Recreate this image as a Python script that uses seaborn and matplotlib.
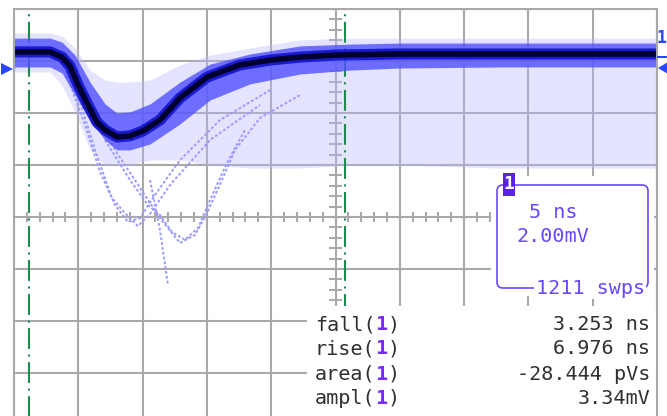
import numpy as np
import pandas as pd
import matplotlib
matplotlib.use("Agg")
import matplotlib.pyplot as plt
import seaborn as sns
from matplotlib.patches import FancyBboxPatch, Rectangle, Polygon

# ---------------- data (time in ns, voltage in mV) ----------------
core_t = [-25.0, -22.20, -21.27, -20.65, -20.02, -19.25, -18.55, -17.92, -16.99, -15.98, -14.97,
          -13.65, -12.09, -9.99, -7.43, -5.02, -2.76, 0.0, 5.02, 12.79, 20.57, 25.0]
core_mv = [6.35, 6.35, 6.15, 5.81, 5.08, 4.31, 3.65, 3.35, 3.08, 3.12, 3.31,
           3.73, 4.58, 5.38, 5.85, 6.04, 6.15, 6.23, 6.27, 6.27, 6.27, 6.27]

env_t = [-25.0, -22.20, -21.27, -20.26, -19.09, -17.92, -16.99, -15.98, -14.42, -12.09, -9.76,
         -6.65, -2.76, 1.13, 5.02, 12.79, 20.57, 25.0]
light_hi = [7.08, 7.08, 6.96, 6.50, 5.65, 5.27, 5.19, 5.19, 5.27, 5.85, 6.23,
            6.50, 6.81, 6.88, 6.88, 6.88, 6.88, 6.88]
light_lo = [5.58, 5.58, 5.08, 4.04, 2.58, 2.00, 2.00, 2.00, 2.19, 2.19, 2.00,
            1.88, 1.88, 2.00, 2.00, 1.88, 1.88, 1.88]
band_hi = [6.88, 6.88, 6.73, 6.23, 5.19, 4.35, 4.00, 4.04, 4.35, 5.19, 5.88,
           6.27, 6.58, 6.65, 6.69, 6.69, 6.69, 6.69]
band_lo = [5.77, 5.77, 5.54, 4.69, 3.73, 2.96, 2.58, 2.58, 2.81, 3.58, 4.50,
           5.12, 5.50, 5.65, 5.73, 5.77, 5.77, 5.77]

out1_t = [-21.27, -19.48, -18.31, -17.15, -16.14, -15.20, -14.04, -12.09, -8.98, -5.09]
out1_mv = [5.96, 3.54, 1.73, 0.46, -0.19, -0.04, 0.85, 2.19, 3.73, 4.88]
out2_t = [-20.65, -18.70, -17.38, -16.37, -15.36, -14.42, -12.87, -9.76, -5.87]
out2_mv = [5.65, 2.58, 0.73, 0.15, -0.35, 0.12, 1.23, 2.96, 4.31]
out3_t = [-19.09, -17.15, -15.20, -13.65, -12.09, -10.92, -9.99, -8.83, -7.81, -5.87, -2.76]
out3_mv = [4.31, 2.58, 1.12, -0.04, -1.00, -0.69, 0.15, 1.42, 2.58, 3.81, 4.69]
out4_t = [-17.92, -15.98, -14.58, -13.65, -12.71, -11.70, -10.69, -9.76, -8.44, -7.04]
out4_mv = [2.96, 1.42, 0.46, 0.08, -0.58, -0.88, -0.42, 0.65, 2.08, 3.35]
out5_t = [-14.42, -13.65, -13.03]
out5_mv = [1.42, -0.50, -2.62]

cursor_t = [-23.83, 0.74]
meas_names = ["fall", "rise", "area", "ampl"]
meas_values = ["3.253 ns", "6.976 ns", "-28.444 pVs", "3.34mV"]
timebase = "5 ns"
vscale = "2.00mV"
sweeps = "1211 swps"

# ---------------- style ----------------
sns.set_style("white")
plt.rcParams["lines.scale_dashes"] = False
plt.rcParams["font.family"] = ["DejaVu Sans Mono", "DejaVu Sans"]

W, H = 667, 416
fig = plt.figure(figsize=(W / 100, H / 100), dpi=100)
ax = fig.add_axes([14 / W, (H - 425) / H, 643 / W, 416 / H])
ax.set_xlim(-25, 25)
ax.set_ylim(-8, 8)

GRID = "#a9a9a9"
ax.set_xticks(np.arange(-25, 26, 5))
ax.set_yticks(np.arange(-8, 9, 2))
ax.tick_params(length=0, labelbottom=False, labelleft=False)
ax.grid(True, color=GRID, lw=1.5)
ax.set_axisbelow(True)
for s in ax.spines.values():
    s.set_color(GRID)
    s.set_linewidth(1.5)
    s.set_zorder(10)

# centre graticule ticks
ax.vlines(np.arange(-25, 25.01, 1), -0.2, 0.2, color=GRID, lw=1.5, zorder=0.6)
ax.hlines(np.arange(-8, 8.01, 0.4), -0.5, 0.5, color=GRID, lw=1.5, zorder=0.6)

# persistence envelopes
ax.fill_between(env_t, light_lo, light_hi, color="#b8b8ff", alpha=0.38, lw=0, zorder=1)
ax.fill_between(env_t, band_lo, band_hi, color="#5050ff", alpha=0.8, lw=0, zorder=2)

# cursors
for ct in cursor_t:
    ax.axvline(ct, color="#1e8a4e", lw=1.5, ls=(0, (15, 4, 1.5, 4)), zorder=1.5)

# outlier sweeps
for tt, vv in [(out1_t, out1_mv), (out2_t, out2_mv), (out3_t, out3_mv),
               (out4_t, out4_mv), (out5_t, out5_mv)]:
    sns.lineplot(x=tt, y=vv, ax=ax, color="#9a9aff", lw=1.4, sort=False,
                 estimator=None, linestyle=(0, (2, 1.5)), zorder=1.8)

core = pd.DataFrame({"t": core_t, "mv": core_mv})
sns.lineplot(data=core, x="t", y="mv", ax=ax, color="#1a1ad0", lw=8, sort=False,
             estimator=None, zorder=3)
sns.lineplot(data=core, x="t", y="mv", ax=ax, color="#000030", lw=4, sort=False,
             estimator=None, zorder=4)
ax.set_xlabel("")
ax.set_ylabel("")

# white measurement panel
ax.add_patch(Rectangle((-2.2, -8), 27.1, 4.58, facecolor="white", edgecolor="none", zorder=5))

tr = fig.dpi_scale_trans
def P(px, py):
    return (px / 100, (H - py) / 100)

FS = 14.5
cw = FS * 100 / 72 * 0.602
TXT = "#303030"
PURP = "#7a28ff"
rows = [325, 349, 374, 398]
for name, val, ry in zip(meas_names, meas_values, rows):
    n = len(name)
    fig.text(*P(315, ry), name + "(", transform=tr, fontsize=FS, color=TXT,
             ha="left", va="center", zorder=20)
    fig.text(*P(315 + (n + 1) * cw, ry), "1", transform=tr, fontsize=FS,
             color=PURP, fontweight="bold", ha="left", va="center", zorder=21)
    fig.text(*P(315 + (n + 2) * cw, ry), ")", transform=tr, fontsize=FS, color=TXT,
             ha="left", va="center", zorder=20)
    fig.text(*P(650, ry), val, transform=tr, fontsize=FS, color=TXT,
             ha="right", va="center", zorder=20)

# channel info box
BOX = "#6a48ff"
fig.add_artist(FancyBboxPatch(P(491, 296), 1.63, 1.2,
                              boxstyle="round,pad=0,rounding_size=0.06",
                              transform=tr, facecolor="white", edgecolor="none", zorder=6))
fig.add_artist(FancyBboxPatch(P(497, 288), 1.51, 1.03,
                              boxstyle="round,pad=0,rounding_size=0.06",
                              transform=tr, facecolor="none", edgecolor=BOX, lw=1.2, zorder=7))
fig.add_artist(Rectangle(P(503, 196), 0.12, 0.23, transform=tr,
                         facecolor="#5a22e8", edgecolor="none", zorder=8))
fig.text(*P(509, 184), "1", transform=tr, fontsize=13, color="white",
         fontweight="bold", ha="center", va="center", zorder=9)
fig.text(*P(529, 212), timebase, transform=tr, fontsize=FS, color=BOX,
         ha="left", va="center", zorder=9)
fig.text(*P(516, 237), vscale, transform=tr, fontsize=FS, color=BOX,
         ha="left", va="center", zorder=9)
fig.text(*P(645, 288), sweeps, transform=tr, fontsize=FS, color=BOX,
         ha="right", va="center", zorder=9,
         bbox=dict(facecolor="white", edgecolor="none", pad=1))

# trace markers at the edges
MK = "#2846ff"
fig.add_artist(Polygon([P(13, 69), P(1, 63), P(1, 75)], closed=True, transform=tr,
                       facecolor=MK, edgecolor="none", zorder=9))
fig.add_artist(Polygon([P(658, 68), P(668, 62), P(668, 74)], closed=True, transform=tr,
                       facecolor=MK, edgecolor="none", zorder=9))
fig.add_artist(Rectangle(P(657, 58), 0.11, 0.02, transform=tr,
                         facecolor=MK, edgecolor="none", zorder=9))
fig.text(*P(666, 38), "1", transform=tr, fontsize=12, color=MK, fontweight="bold",
         ha="right", va="center", zorder=9)

fig.savefig("out.png", dpi=100)
